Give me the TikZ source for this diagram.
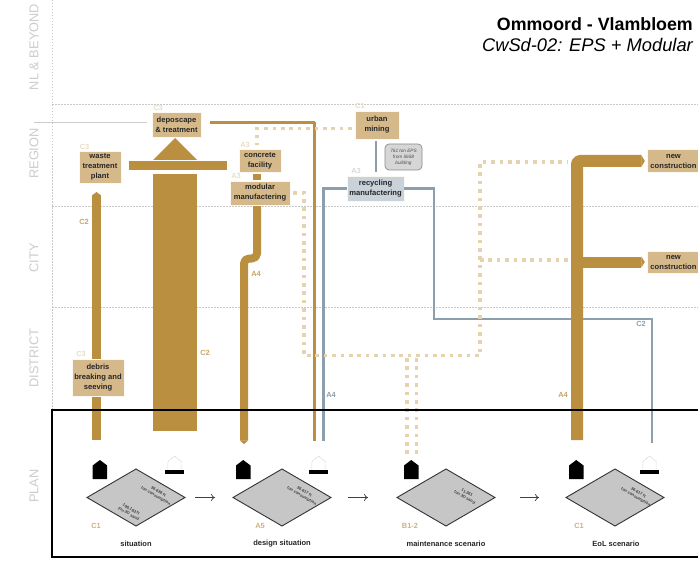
\documentclass[tikz,border=0pt]{standalone}
\usepackage{fontspec}
\setmainfont{Liberation Sans}
\usetikzlibrary{arrows.meta}
\definecolor{gold}{HTML}{BA8F40}
\definecolor{tanbox}{HTML}{D6B98A}
\definecolor{tandot}{HTML}{E5D2AE}
\definecolor{paletan}{HTML}{EBDDC3}
\definecolor{steel}{HTML}{8B9FAE}
\definecolor{steelbox}{HTML}{C9D1D9}
\definecolor{bandgrey}{HTML}{CCCCCC}
\definecolor{dotgrey}{HTML}{C8C8C8}
\definecolor{diamondgrey}{HTML}{C6C6C6}
\tikzset{
  boxbase/.style={inner sep=0pt,align=center,text=black!85,font=\fontsize{7.6}{11}\selectfont\bfseries,draw=white!90!tanbox,line width=.5pt},
  tanproc/.style={boxbase,fill=tanbox},
  steelproc/.style={boxbase,fill=steelbox},
  notebox/.style={draw=black!45,fill=black!16,rounded corners=4pt,line width=.7pt,inner sep=0pt,align=center,text=black!70,font=\fontsize{4.7}{7.4}\selectfont\itshape},
  band/.style={rotate=90,text=bandgrey,font=\fontsize{12.8}{14}\selectfont},
  guide/.style={dotgrey,line width=.7pt,dash pattern=on 1.5pt off 1.5pt},
  flowgold/.style={gold,line join=round},
  flowsteel/.style={steel,line width=2.5pt},
  dots/.style={tandot,line width=3.4pt,dash pattern=on 3.6pt off 4.8pt},
  code/.style={inner sep=0pt,font=\fontsize{7.4}{8}\selectfont\bfseries,text=#1},
  code/.default=tanbox,
  plot/.style={draw=black!80,fill=diamondgrey,line width=.9pt,line join=miter},
  plottext/.style={inner sep=0pt,rotate=-30,align=center,text=black!75,font=\fontsize{4.1}{5}\selectfont\bfseries},
  caption/.style={inner sep=0pt,text=black!85,font=\fontsize{7.5}{8}\selectfont\bfseries},
  stepto/.style={-{To[length=4pt,width=7pt]},black!75,line width=.7pt},
  tip/.style={-{Triangle[length=3.5pt,width=#1]}},
  house/.style={fill=black},
  ghost/.style={draw=black!22,line width=.5pt,dash pattern=on 1pt off .8pt},
  bar/.style={fill=black}
}
\begin{document}
\begin{tikzpicture}[x=1pt,y=-1pt]
\useasboundingbox (0,0) rectangle (698,580);
\fill[white] (0,0) rectangle (698,580);
% bands
\draw[guide] (52,0) -- (52,410);
\foreach \yy in {104.5,206,307.5} \draw[guide] (52,\yy) -- (698,\yy);
\node[band] (bandA) at (34,47) {NL \& BEYOND};
\node[band] (bandB) at (34,153.5) {REGION};
\node[band] (bandC) at (34,258) {CITY};
\node[band] (bandD) at (34,358) {DISTRICT};
\node[band] (bandE) at (34,486) {PLAN};
% title
\node[anchor=east,inner sep=0pt,font=\fontsize{17.8}{20}\selectfont\bfseries] (title) at (693,24) {Ommoord - Vlambloem};
\node[anchor=east,inner sep=0pt,font=\fontsize{18.3}{20}\selectfont\itshape] (subtitle) at (693,45) {CwSd-02: EPS + Modular};
% nodes
\node[tanproc,minimum width=49pt,minimum height=25pt] (depo) at (176.5,124.5) {deposcape\\[-1pt]\& treatment};
\node[tanproc,minimum width=42pt,minimum height=32pt] (waste) at (100,167) {waste\\[-1pt]treatment\\[-1pt]plant};
\node[tanproc,minimum width=42pt,minimum height=23pt] (concrete) at (260,160.5) {concrete\\[-1pt]facility};
\node[tanproc,minimum width=60pt,minimum height=24pt] (modular) at (260,193) {modular\\[-1pt]manufactering};
\node[tanproc,minimum width=44pt,minimum height=28pt] (urban) at (377,125) {urban\\[-1pt]mining};
\node[steelproc,minimum width=57pt,minimum height=25pt] (recycle) at (375.5,188.5) {recycling\\[-1pt]manufactering};
\node[notebox,minimum width=37pt,minimum height=26pt] (note) at (403.5,157) {761 ton EPS\\[-1.5pt]from 5658\\[-1.5pt]building};
\node[tanproc,minimum width=53pt,minimum height=23pt] (newA) at (673.5,161) {new\\[-1pt]construction};
\node[tanproc,minimum width=53pt,minimum height=22pt] (newB) at (673.5,262) {new\\[-1pt]construction};
% free ends
\coordinate (wasteEnd) at (96.5,440);
\coordinate (wasteTop) at (96.5,192);
\coordinate (modEnd) at (244,444);
\coordinate (goldEnd) at (314.7,441);
\coordinate (steelEnd) at (323.3,441);
\coordinate (steelEndB) at (652,443);
\coordinate (eolEnd) at (577,440);
\coordinate (greyStart) at (34,122.5);
\coordinate (dotA) at (257,128.5);
\coordinate (dotB) at (257,145);
\coordinate (dotC) at (304,355.7);
\coordinate (dotD) at (480,355.7);
\coordinate (dotE) at (480,162);
\coordinate (dotF) at (568,162);
\coordinate (dotG) at (568,260);
\coordinate (dotH) at (480,260);
% flows
\draw[bandgrey,line width=.6pt] (greyStart) -- ([xshift=-5pt,yshift=2pt]depo.west);
\draw[flowgold,line width=9pt,tip=9pt] (wasteEnd) -- (wasteTop);
\fill[gold] (153,174) rectangle (197,431);
\fill[gold] (128.5,161.5) rectangle (226.5,170.5);
\fill[gold] (153,160) -- (175,138) -- (197,160) -- cycle;
\draw[flowgold,line width=8pt] (257,174) -- (257,180);
\draw[flowgold,line width=8pt,tip=8pt,rounded corners=5pt] (257,206) -- (257,258.5) -- (244,258.5) -- (modEnd);
\draw[flowgold,line width=2.5pt] ([xshift=9pt,yshift=2pt]depo.east) -| (goldEnd);
\draw[flowsteel] (recycle.west) -| (steelEnd);
\draw[flowsteel] (376,141) -- (376,172);
\draw[flowsteel] (recycle.east) -- (434,188.5) -- (434,319) -- (652,319) -- (steelEndB);
\draw[flowgold,line width=12pt,tip=12pt,rounded corners=3pt] (eolEnd) |- ([xshift=-2pt]newA.west);
\draw[flowgold,line width=11pt,tip=11pt] (eolEnd |- newB.west) -- ([xshift=-2pt]newB.west);
% dotted flows
\draw[dots] ([xshift=-3pt,yshift=-3.5pt]urban.west) -- (dotA) -- (dotB);
\draw[dots] ([xshift=3pt]modular.east) -- (304,193) -- (dotC) -- (dotD) -- (dotE) -- (dotF);
\draw[dots] (dotH) -- (dotG);
\draw[dots] (407,358) -- (407,456);
\draw[dots] (416.5,358) -- (416.5,455);
% plan frame
\draw[black,line width=1.4pt] (698,410) -- (52,410) -- (52,557) -- (698,557);
% boxes over flows
\node[tanproc,minimum width=52pt,minimum height=37pt] (debris) at (98,377.5) {debris\\[-1pt]breaking and\\[-1pt]seeving};
% codes
\node[code=paletan] (cA) at (158,108) {C3};
\node[code=paletan] (cB) at (84.5,147) {C3};
\node[code=paletan] (cC) at (245,144.5) {A3};
\node[code=paletan] (cD) at (236,176) {A3};
\node[code=paletan] (cE) at (360,106) {C1};
\node[code=black!15] (cF) at (356,171) {A3};
\node[code=paletan] (cG) at (81,354) {C3};
\node[code=gold!80!white] (cH) at (84,222) {C2};
\node[code=gold!80!white] (cI) at (205,353) {C2};
\node[code=gold!80!white] (cJ) at (256,274) {A4};
\node[code=steel] (cK) at (331,395) {A4};
\node[code=gold!80!white] (cL) at (563,395) {A4};
\node[code=steel] (cM) at (641,324) {C2};
% houses
\foreach \xx in {92.7,236,404,569}
  \fill[house] (\xx,479) -- (\xx,465.5) -- (\xx+7.2,460) -- (\xx+14.5,465.5) -- (\xx+14.5,479) -- cycle;
\foreach \xx in {174.5,318.5,649.5} {
  \draw[ghost] (\xx-6.7,470) -- (\xx-6.7,461.5) -- (\xx,456) -- (\xx+6.7,461.5) -- (\xx+6.7,470);
  \fill[bar] (\xx-9.7,470.3) rectangle (\xx+9.7,474);
}
% plots
\node[inner sep=0pt,minimum size=0pt] (pA) at (136,497.5) {};
\node[inner sep=0pt,minimum size=0pt] (pB) at (282,497.5) {};
\node[inner sep=0pt,minimum size=0pt] (pC) at (446,497.5) {};
\node[inner sep=0pt,minimum size=0pt] (pD) at (615,497.5) {};
\foreach \n in {pA,pB,pC,pD}
  \draw[plot] ([xshift=-49pt]\n.center) -- ([yshift=28.5pt]\n.center) -- ([xshift=49pt]\n.center) -- ([yshift=-28.5pt]\n.center) -- cycle;
\node[plottext] (tA) at (157,494) {36.636 ft\\ton consumption};
\node[plottext] (tB) at (130,511.5) {196.183 ft\\ton 3D sand};
\node[plottext] (tC) at (303,494) {36.617 ft\\ton consumption};
\node[plottext] (tD) at (466,495) {11.361\\ton 3D sand};
\node[plottext] (tE) at (637,495) {36.617 ft\\ton consumption};
\draw[stepto] ([xshift=59pt]pA.center) -- ([xshift=79pt]pA.center);
\draw[stepto] ([xshift=66pt]pB.center) -- ([xshift=86pt]pB.center);
\draw[stepto] ([xshift=74pt]pC.center) -- ([xshift=93pt]pC.center);
\node[code=gold!70!white] (lA) at (96,526) {C1};
\node[code=gold!70!white] (lB) at (260,526) {A5};
\node[code=gold!70!white] (lC) at (410,526) {B1-2};
\node[code=gold!70!white] (lD) at (579,526) {C1};
\node[caption] (sA) at (136,544) {situation};
\node[caption] (sB) at (282,544) {design situation};
\node[caption] (sC) at (446,544) {maintenance scenario};
\node[caption] (sD) at (616,544) {EoL scenario};
\end{tikzpicture}
\end{document}
